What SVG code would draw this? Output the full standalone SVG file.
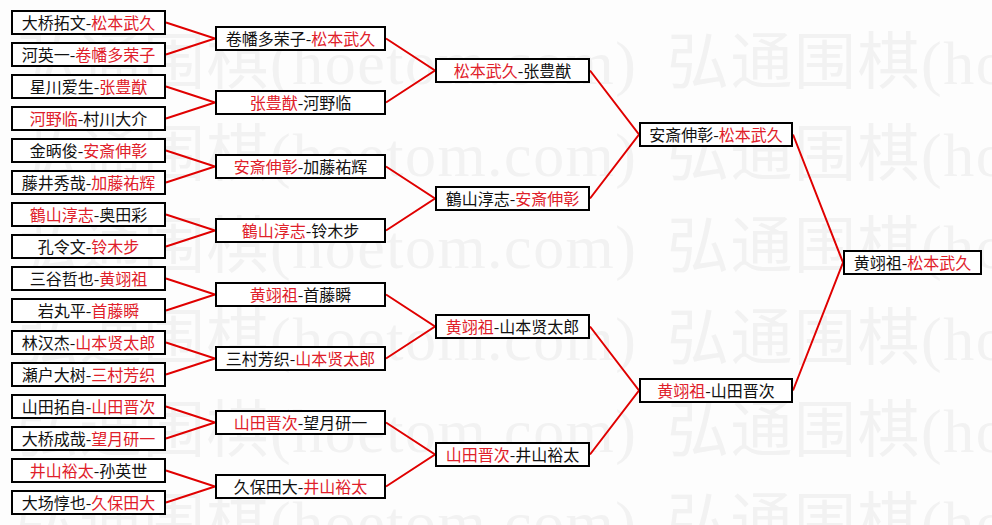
<svg xmlns="http://www.w3.org/2000/svg" width="992" height="525" viewBox="0 0 992 525">
<style>
.bg{fill:#fdfdfd}
.wm{font-family:"Liberation Serif","Noto Sans CJK SC",serif;font-size:62px;fill:#f2f2f2}
.box{fill:#ffffff;stroke:#000000;stroke-width:2}
.t{font-family:"Noto Sans CJK SC","Noto Sans",sans-serif;font-size:16px;text-anchor:middle;fill:#111111}
.r{fill:#e0202a}
.link{fill:none;stroke:#e00000;stroke-width:2}
</style>
<rect class="bg" x="0" y="0" width="992" height="525"/>
<g id="watermark">
<text class="wm" x="16" y="84" textLength="620" lengthAdjust="spacing">弘通围棋(hoetom.com)</text>
<text class="wm" x="667" y="84" textLength="620" lengthAdjust="spacing">弘通围棋(hoetom.com)</text>
<text class="wm" x="16" y="176" textLength="620" lengthAdjust="spacing">弘通围棋(hoetom.com)</text>
<text class="wm" x="667" y="176" textLength="620" lengthAdjust="spacing">弘通围棋(hoetom.com)</text>
<text class="wm" x="16" y="268" textLength="620" lengthAdjust="spacing">弘通围棋(hoetom.com)</text>
<text class="wm" x="667" y="268" textLength="620" lengthAdjust="spacing">弘通围棋(hoetom.com)</text>
<text class="wm" x="16" y="360" textLength="620" lengthAdjust="spacing">弘通围棋(hoetom.com)</text>
<text class="wm" x="667" y="360" textLength="620" lengthAdjust="spacing">弘通围棋(hoetom.com)</text>
<text class="wm" x="16" y="452" textLength="620" lengthAdjust="spacing">弘通围棋(hoetom.com)</text>
<text class="wm" x="667" y="452" textLength="620" lengthAdjust="spacing">弘通围棋(hoetom.com)</text>
<text class="wm" x="16" y="544" textLength="620" lengthAdjust="spacing">弘通围棋(hoetom.com)</text>
<text class="wm" x="667" y="544" textLength="620" lengthAdjust="spacing">弘通围棋(hoetom.com)</text>
</g>
<g id="connectors">
<polyline class="link" points="166,22.5 215,38.5 166,54.5"/>
<polyline class="link" points="166,86.5 215,102.5 166,118.5"/>
<polyline class="link" points="166,150.5 215,166.5 166,182.5"/>
<polyline class="link" points="166,214.5 215,230.5 166,246.5"/>
<polyline class="link" points="166,278.5 215,294.5 166,310.5"/>
<polyline class="link" points="166,342.5 215,358.5 166,374.5"/>
<polyline class="link" points="166,406.5 215,422.5 166,438.5"/>
<polyline class="link" points="166,470.5 215,486.5 166,502.5"/>
<polyline class="link" points="386,38.5 435,70.5 386,102.5"/>
<polyline class="link" points="386,166.5 435,198.5 386,230.5"/>
<polyline class="link" points="386,294.5 435,326.5 386,358.5"/>
<polyline class="link" points="386,422.5 435,454.5 386,486.5"/>
<polyline class="link" points="590,70.5 639,134.5 590,198.5"/>
<polyline class="link" points="590,326.5 639,390.5 590,454.5"/>
<polyline class="link" points="793,134.5 843,262.5 793,390.5"/>
</g>
<g id="r1-1"><rect class="box" x="12" y="11" width="153" height="23"/><text class="t" x="88.5" y="28.5">大桥拓文-<tspan class="r">松本武久</tspan></text></g>
<g id="r1-2"><rect class="box" x="12" y="43" width="153" height="23"/><text class="t" x="88.5" y="60.5">河英一-<tspan class="r">卷幡多荣子</tspan></text></g>
<g id="r1-3"><rect class="box" x="12" y="75" width="153" height="23"/><text class="t" x="88.5" y="92.5">星川爱生-<tspan class="r">张豊猷</tspan></text></g>
<g id="r1-4"><rect class="box" x="12" y="107" width="153" height="23"/><text class="t" x="88.5" y="124.5"><tspan class="r">河野临</tspan>-村川大介</text></g>
<g id="r1-5"><rect class="box" x="12" y="139" width="153" height="23"/><text class="t" x="88.5" y="156.5">金昞俊-<tspan class="r">安斎伸彰</tspan></text></g>
<g id="r1-6"><rect class="box" x="12" y="171" width="153" height="23"/><text class="t" x="88.5" y="188.5">藤井秀哉-<tspan class="r">加藤祐辉</tspan></text></g>
<g id="r1-7"><rect class="box" x="12" y="203" width="153" height="23"/><text class="t" x="88.5" y="220.5"><tspan class="r">鶴山淳志</tspan>-奥田彩</text></g>
<g id="r1-8"><rect class="box" x="12" y="235" width="153" height="23"/><text class="t" x="88.5" y="252.5">孔令文-<tspan class="r">铃木步</tspan></text></g>
<g id="r1-9"><rect class="box" x="12" y="267" width="153" height="23"/><text class="t" x="88.5" y="284.5">三谷哲也-<tspan class="r">黄翊祖</tspan></text></g>
<g id="r1-10"><rect class="box" x="12" y="299" width="153" height="23"/><text class="t" x="88.5" y="316.5">岩丸平-<tspan class="r">首藤瞬</tspan></text></g>
<g id="r1-11"><rect class="box" x="12" y="331" width="153" height="23"/><text class="t" x="88.5" y="348.5">林汉杰-<tspan class="r">山本贤太郎</tspan></text></g>
<g id="r1-12"><rect class="box" x="12" y="363" width="153" height="23"/><text class="t" x="88.5" y="380.5">瀬户大树-<tspan class="r">三村芳织</tspan></text></g>
<g id="r1-13"><rect class="box" x="12" y="395" width="153" height="23"/><text class="t" x="88.5" y="412.5">山田拓自-<tspan class="r">山田晋次</tspan></text></g>
<g id="r1-14"><rect class="box" x="12" y="427" width="153" height="23"/><text class="t" x="88.5" y="444.5">大桥成哉-<tspan class="r">望月研一</tspan></text></g>
<g id="r1-15"><rect class="box" x="12" y="459" width="153" height="23"/><text class="t" x="88.5" y="476.5"><tspan class="r">井山裕太</tspan>-孙英世</text></g>
<g id="r1-16"><rect class="box" x="12" y="491" width="153" height="23"/><text class="t" x="88.5" y="508.5">大场惇也-<tspan class="r">久保田大</tspan></text></g>
<g id="r2-1"><rect class="box" x="216" y="27" width="169" height="23"/><text class="t" x="300.5" y="44.5">卷幡多荣子-<tspan class="r">松本武久</tspan></text></g>
<g id="r2-2"><rect class="box" x="216" y="91" width="169" height="23"/><text class="t" x="300.5" y="108.5"><tspan class="r">张豊猷</tspan>-河野临</text></g>
<g id="r2-3"><rect class="box" x="216" y="155" width="169" height="23"/><text class="t" x="300.5" y="172.5"><tspan class="r">安斎伸彰</tspan>-加藤祐辉</text></g>
<g id="r2-4"><rect class="box" x="216" y="219" width="169" height="23"/><text class="t" x="300.5" y="236.5"><tspan class="r">鶴山淳志</tspan>-铃木步</text></g>
<g id="r2-5"><rect class="box" x="216" y="283" width="169" height="23"/><text class="t" x="300.5" y="300.5"><tspan class="r">黄翊祖</tspan>-首藤瞬</text></g>
<g id="r2-6"><rect class="box" x="216" y="347" width="169" height="23"/><text class="t" x="300.5" y="364.5">三村芳织-<tspan class="r">山本贤太郎</tspan></text></g>
<g id="r2-7"><rect class="box" x="216" y="411" width="169" height="23"/><text class="t" x="300.5" y="428.5"><tspan class="r">山田晋次</tspan>-望月研一</text></g>
<g id="r2-8"><rect class="box" x="216" y="475" width="169" height="23"/><text class="t" x="300.5" y="492.5">久保田大-<tspan class="r">井山裕太</tspan></text></g>
<g id="r3-1"><rect class="box" x="436" y="59" width="153" height="23"/><text class="t" x="512.5" y="76.5"><tspan class="r">松本武久</tspan>-张豊猷</text></g>
<g id="r3-2"><rect class="box" x="436" y="187" width="153" height="23"/><text class="t" x="512.5" y="204.5">鶴山淳志-<tspan class="r">安斎伸彰</tspan></text></g>
<g id="r3-3"><rect class="box" x="436" y="315" width="153" height="23"/><text class="t" x="512.5" y="332.5"><tspan class="r">黄翊祖</tspan>-山本贤太郎</text></g>
<g id="r3-4"><rect class="box" x="436" y="443" width="153" height="23"/><text class="t" x="512.5" y="460.5"><tspan class="r">山田晋次</tspan>-井山裕太</text></g>
<g id="r4-1"><rect class="box" x="640" y="123" width="152" height="23"/><text class="t" x="716" y="140.5">安斎伸彰-<tspan class="r">松本武久</tspan></text></g>
<g id="r4-2"><rect class="box" x="640" y="379" width="152" height="23"/><text class="t" x="716" y="396.5"><tspan class="r">黄翊祖</tspan>-山田晋次</text></g>
<g id="final"><rect class="box" x="844" y="251" width="137" height="23"/><text class="t" x="912.5" y="268.5">黄翊祖-<tspan class="r">松本武久</tspan></text></g>
</svg>
